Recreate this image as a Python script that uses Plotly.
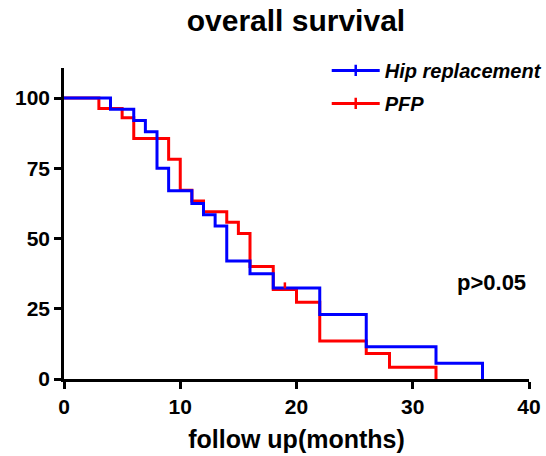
import plotly.graph_objects as go

# ---- data ----
hip_time = [0, 4, 6, 7, 8, 9, 11, 12, 13, 14, 16, 18, 22, 26, 32, 36]
hip_surv = [100, 96, 92, 88, 75, 67, 62.5, 58.5, 54.5, 42, 37.5, 32.4, 23, 11.5, 5.6, 0]

pfp_time = [0, 3, 5, 6, 9, 10, 11, 12, 14, 15, 16, 18, 20, 22, 26, 28, 32]
pfp_surv = [100, 96.3, 93, 85.6, 78.2, 67.2, 63.4, 59.5, 55.8, 51.8, 40, 31.9, 27.3, 13.5, 9.1, 4.2, 0]
pfp_censored = [19]

series_names = ["Hip replacement", "PFP"]
x_ticks = [0, 10, 20, 30, 40]
y_ticks = [0, 25, 50, 75, 100]

BLUE = "#0000FF"
RED = "#FF0000"
FONT = "Liberation Sans, Arial, sans-serif"


def surv_at(times, survs, t):
    val = survs[0]
    for ti, si in zip(times, survs):
        if ti <= t:
            val = si
    return val


fig = go.Figure()

# main curves (red first so blue is drawn on top)
fig.add_trace(go.Scatter(x=pfp_time, y=pfp_surv, mode="lines", line=dict(color=RED, width=3, shape="hv"),
                         showlegend=False, hoverinfo="skip"))
fig.add_trace(go.Scatter(x=hip_time, y=hip_surv, mode="lines", line=dict(color=BLUE, width=3, shape="hv"),
                         showlegend=False, hoverinfo="skip"))

# legend entries
for i, (name, col) in enumerate(zip(series_names, [BLUE, RED])):
    fig.add_trace(go.Scatter(x=[None], y=[None], mode="lines+markers", name=name,
                             line=dict(color=col, width=3),
                             marker=dict(symbol="line-ns-open", size=8, color=col, line=dict(color=col, width=2.5)),
                             legendgroup=f"g{i}"))

# censor ticks
for t in pfp_censored:
    fig.add_shape(type="line", xref="x", yref="y", x0=t, x1=t,
                  ysizemode="pixel", yanchor=surv_at(pfp_time, pfp_surv, t), y0=1, y1=7,
                  line=dict(color=RED, width=2.5))

fig.add_annotation(x=39.9, y=34.5, xref="x", yref="y", text="p>0.05", showarrow=False,
                   xanchor="right", yanchor="middle",
                   font=dict(family=FONT, size=22, color="black", weight="bold"))

axis_common = dict(showline=True, linecolor="black", linewidth=2.5, ticks="outside", ticklen=7,
                   tickwidth=2.5, tickcolor="black", showgrid=False, zeroline=False,
                   tickfont=dict(family=FONT, size=21, color="black", weight="bold"))

fig.update_xaxes(range=[0, 40], tickvals=x_ticks, ticktext=[str(v) for v in x_ticks],
                 title=dict(text="follow up(months)", standoff=14,
                            font=dict(family=FONT, size=25, color="black", weight="bold")),
                 **axis_common)
fig.update_yaxes(range=[0, 110.7], tickvals=y_ticks, ticktext=[str(v) for v in y_ticks], **axis_common)

fig.update_layout(
    width=546, height=456,
    margin=dict(l=64, r=17, t=68, b=77, autoexpand=False),
    paper_bgcolor="white", plot_bgcolor="white",
    title=dict(text="overall survival", x=0.542, xanchor="center", y=0.956, yanchor="middle",
               font=dict(family=FONT, size=30, color="black", weight="bold")),
    legend=dict(x=0.565, y=1.055, xanchor="left", yanchor="top", bgcolor="rgba(0,0,0,0)",
                itemwidth=48, tracegroupgap=4,
                font=dict(family=FONT, size=20, color="black", weight="bold", style="italic")),
)

fig.write_html("out.html", config={"displayModeBar": False},
               post_script="document.body.style.margin='0';")
